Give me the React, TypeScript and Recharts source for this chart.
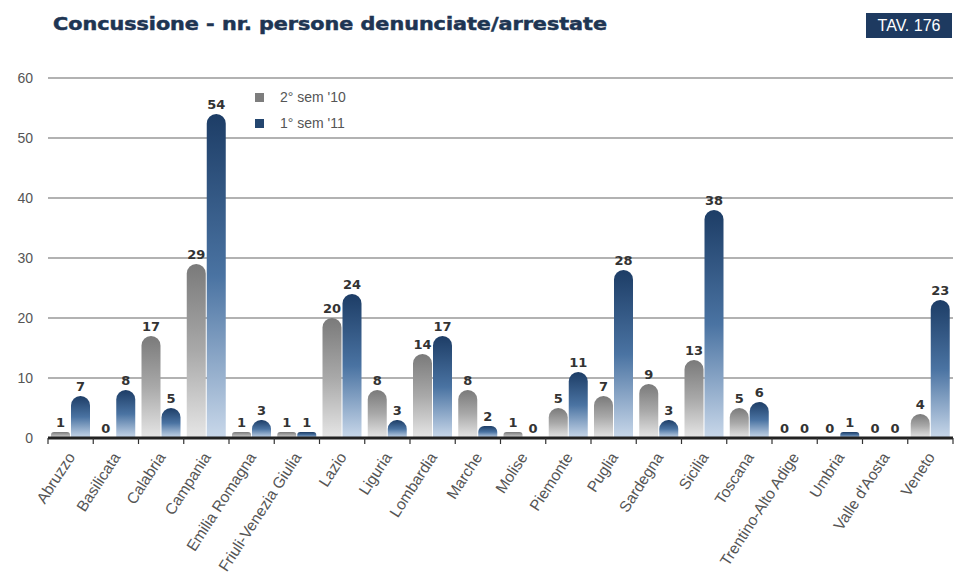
import React from "react";
import {
  BarChart,
  Bar,
  XAxis,
  YAxis,
  CartesianGrid,
  LabelList,
} from "recharts";

const regions = [
  "Abruzzo",
  "Basilicata",
  "Calabria",
  "Campania",
  "Emilia Romagna",
  "Friuli-Venezia Giulia",
  "Lazio",
  "Liguria",
  "Lombardia",
  "Marche",
  "Molise",
  "Piemonte",
  "Puglia",
  "Sardegna",
  "Sicilia",
  "Toscana",
  "Trentino-Alto Adige",
  "Umbria",
  "Valle d'Aosta",
  "Veneto",
];
const sem2_10 = [1, 0, 17, 29, 1, 1, 20, 8, 14, 8, 1, 5, 7, 9, 13, 5, 0, 0, 0, 4];
const sem1_11 = [7, 8, 5, 54, 3, 1, 24, 3, 17, 2, 0, 11, 28, 3, 38, 6, 0, 1, 0, 23];
const yTicks = [0, 10, 20, 30, 40, 50, 60];
const seriesNames = ["2° sem '10", "1° sem '11"];
const titleText = "Concussione - nr. persone denunciate/arrestate";
const tavText = "TAV. 176";

const data = regions.map((r, i) => ({ name: r, a: sem2_10[i], b: sem1_11[i] }));

const W = 961;
const H = 581;
const LEFT = 48;
const RIGHT = 8;
const BAND = (W - LEFT - RIGHT) / regions.length;

const XTick = (props: any) => {
  const { x, y, payload, index } = props;
  const isLast = index === regions.length - 1;
  return (
    <g>
      <line x1={x - BAND / 2} y1={y - 8} x2={x - BAND / 2} y2={y - 2} stroke="#333" strokeWidth={1.2} />
      {isLast && (
        <line x1={x + BAND / 2} y1={y - 8} x2={x + BAND / 2} y2={y - 2} stroke="#333" strokeWidth={1.2} />
      )}
      <text
        x={x + 5}
        y={y + 11}
        textAnchor="end"
        transform={`rotate(-57, ${x + 5}, ${y + 11})`}
        fill="#555"
        fontSize={15.5}
        fontFamily="Liberation Sans, Arial, sans-serif"
      >
        {payload.value}
      </text>
    </g>
  );
};

const labelProps = {
  position: "top" as const,
  offset: 5,
  fill: "#333",
  fontSize: 13,
  fontWeight: "bold",
  fontFamily: "DejaVu Sans, sans-serif",
};

export default function App() {
  return (
    <div style={{ position: "absolute", left: 0, top: 0, width: W, height: H, background: "#fff" }}>
      <svg width={W} height={50} style={{ position: "absolute", left: 0, top: 0 }}>
        <text
          x={53}
          y={30}
          fontFamily="DejaVu Sans, Liberation Sans, sans-serif"
          fontWeight="bold"
          fontSize={17}
          fill="#1e3553"
          stroke="#1e3553"
          strokeWidth={0.5}
          textLength={554}
          lengthAdjust="spacingAndGlyphs"
        >
          {titleText}
        </text>
        <rect x={866} y={13} width={86} height={25} fill="#1e3a60" />
        <text
          x={909}
          y={31}
          textAnchor="middle"
          fontFamily="Liberation Sans, Arial, sans-serif"
          fontSize={16}
          fill="#fff"
        >
          {tavText}
        </text>
      </svg>
      <BarChart
        width={W}
        height={H}
        data={data}
        margin={{ top: 78, right: RIGHT, left: 0, bottom: 0 }}
        barSize={19}
        barGap={1}
        style={{ position: "absolute", left: 0, top: 0 }}
      >
        <defs>
          <linearGradient id="gGrey" x1="0" y1="0" x2="0" y2="1">
            <stop offset="0%" stopColor="#7a7a7a" />
            <stop offset="50%" stopColor="#a9a9a9" />
            <stop offset="100%" stopColor="#e6e6e6" />
          </linearGradient>
          <linearGradient id="gBlue" x1="0" y1="0" x2="0" y2="1">
            <stop offset="0%" stopColor="#1d3d66" />
            <stop offset="50%" stopColor="#4a73a2" />
            <stop offset="100%" stopColor="#c9d8ea" />
          </linearGradient>
        </defs>
        <CartesianGrid vertical={false} stroke="#666" strokeWidth={1.2} />
        <XAxis
          dataKey="name"
          interval={0}
          height={143}
          axisLine={{ stroke: "#222", strokeWidth: 3 }}
          tickLine={false}
          tick={<XTick />}
        />
        <YAxis
          domain={[0, 60]}
          ticks={yTicks}
          width={LEFT}
          axisLine={false}
          tickLine={false}
          tick={{ fill: "#555", fontSize: 14, fontFamily: "Liberation Sans, Arial, sans-serif" }}
          tickMargin={9}
        />
        <Bar
          dataKey="a"
          name={seriesNames[0]}
          fill="url(#gGrey)"
          radius={[10, 10, 0, 0]}
          minPointSize={0.01}
          isAnimationActive={false}
        >
          <LabelList dataKey="a" {...labelProps} />
        </Bar>
        <Bar
          dataKey="b"
          name={seriesNames[1]}
          fill="url(#gBlue)"
          radius={[10, 10, 0, 0]}
          minPointSize={0.01}
          isAnimationActive={false}
        >
          <LabelList dataKey="b" {...labelProps} />
        </Bar>
      </BarChart>
      <div
        style={{
          position: "absolute",
          left: 255,
          top: 84,
          fontFamily: "Liberation Sans, Arial, sans-serif",
          fontSize: 14,
          color: "#555",
        }}
      >
        {seriesNames.map((n, i) => (
          <div key={n} style={{ display: "flex", alignItems: "center", height: 26 }}>
            <span
              style={{
                display: "inline-block",
                width: 9,
                height: 9,
                background: i === 0 ? "#7d7d7d" : "#24466f",
                marginRight: 16,
              }}
            />
            <span>{n}</span>
          </div>
        ))}
      </div>
    </div>
  );
}
